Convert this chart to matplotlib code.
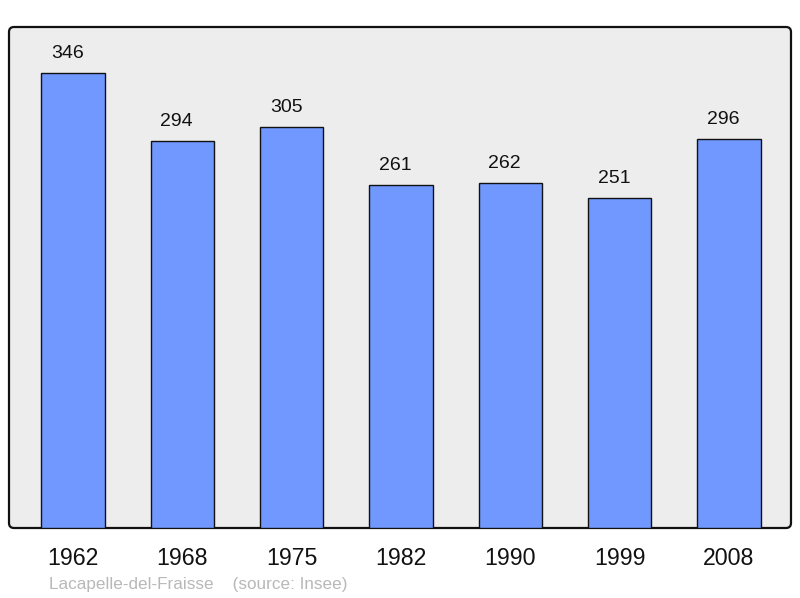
import matplotlib
matplotlib.use("Agg")
import matplotlib.pyplot as plt
from matplotlib.patches import FancyBboxPatch
from matplotlib.transforms import IdentityTransform

years = ["1962", "1968", "1975", "1982", "1990", "1999", "2008"]
population = [346, 294, 305, 261, 262, 251, 296]
footer = "Lacapelle-del-Fraisse    (source: Insee)"

plt.rcParams['font.family'] = ['Liberation Sans', 'DejaVu Sans']

W, H = 800, 598
fig = plt.figure(figsize=(W / 100, H / 100), dpi=100)
L, R, T, B = 9, 791, 27, 528
ax = fig.add_axes([L / W, (H - B) / H, (R - L) / W, (B - T) / H])
ax.patch.set_visible(False)
ax.set_zorder(5)

frame = FancyBboxPatch((L, H - B), R - L, B - T,
                       boxstyle="round,pad=0,rounding_size=5",
                       transform=IdentityTransform(), facecolor="#ededed",
                       edgecolor="#111111", linewidth=1.6, zorder=-10)
fig.patches.append(frame)

x = list(range(len(years)))
ax.bar(x, population, width=0.58, color="#7098ff", edgecolor="#111111",
       linewidth=1.0, zorder=2)
for xi, v in zip(x, population):
    ax.annotate(str(v), (xi, v), xytext=(-4, 10.8), textcoords="offset points",
                ha="center", va="baseline", fontsize=14, color="#111111")

ax.set_xlim(-0.585, 6.567)
ax.set_ylim(0, 381)
ax.set_yticks([])
ax.set_xticks(x)
ax.set_xticklabels(years, fontsize=16.7, color="#111111")
ax.tick_params(axis="x", length=0, pad=13.5)
for s in ax.spines.values():
    s.set_visible(False)

fig.text(49 / W, 1 - 584 / H, footer, fontsize=12.3, color="#b8b8b8",
         ha="left", va="center")

fig.savefig("out.png", dpi=100)
